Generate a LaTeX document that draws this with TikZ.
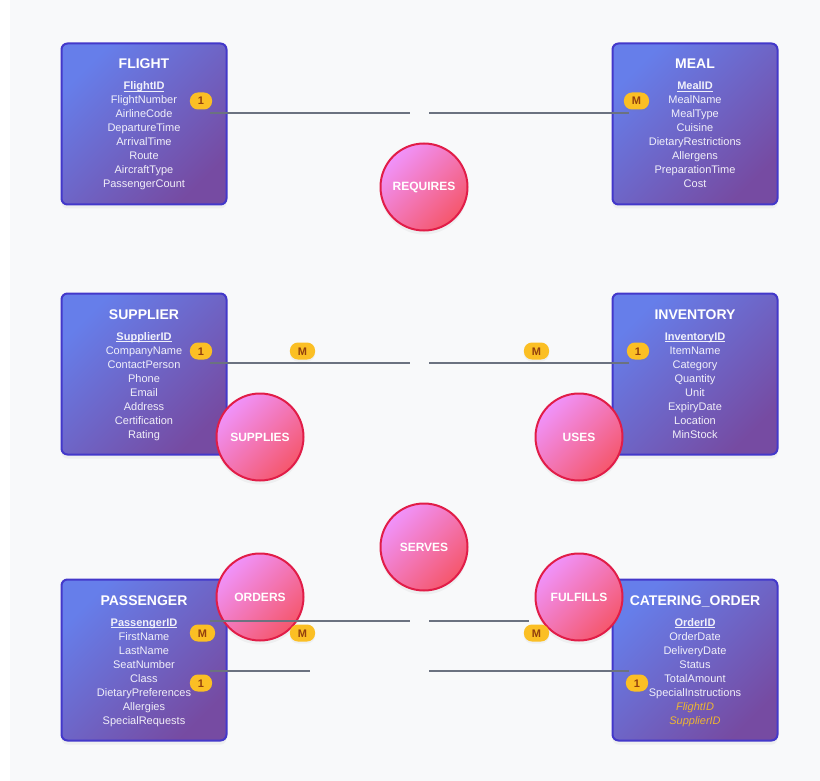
\documentclass[tikz,border=0pt]{standalone}
\usepackage{fontspec}
\setmainfont{Liberation Sans}
\usetikzlibrary{shadows, positioning}
\definecolor{eTop}{HTML}{667EEA}
\definecolor{eBot}{HTML}{764BA2}
\definecolor{eEdge}{HTML}{4338CA}
\definecolor{rTop}{HTML}{F093FB}
\definecolor{rBot}{HTML}{F5576C}
\definecolor{rEdge}{HTML}{E11D48}
\definecolor{lGrey}{HTML}{6B7280}
\definecolor{bFill}{HTML}{FBBF24}
\definecolor{bInk}{HTML}{92400E}
\definecolor{fkInk}{HTML}{FBBF24}
\definecolor{paper}{HTML}{F8F9FA}
\newlength{\pkwidth}
\newcommand{\pk}[1]{\settowidth{\pkwidth}{\textbf{#1}}%
  \textbf{#1}\hspace{-\pkwidth}\rule[-2pt]{\pkwidth}{1pt}}
\newcommand{\fk}[1]{\textcolor{fkInk}{\textit{#1}}}

\begin{document}
\begin{tikzpicture}[x=1pt, y=-1pt,
  entity/.style={draw=eEdge, line width=2pt, rounded corners=6pt,
    top color=eTop, bottom color=eBot, shading angle=45,
    minimum width=165pt, minimum height=161pt, inner sep=0pt,
    drop shadow={opacity=0.08, shadow xshift=0pt, shadow yshift=-4pt}},
  etitle/.style={text=white, anchor=base, inner sep=0pt,
    font=\fontsize{14}{16}\selectfont\bfseries},
  attr/.style={text=white, text opacity=0.9, anchor=base, inner sep=0pt,
    font=\fontsize{11}{13}\selectfont},
  rel/.style={circle, draw=rEdge, line width=2pt,
    top color=rTop, bottom color=rBot, shading angle=45,
    minimum size=87pt, inner sep=0pt, text=white,
    font=\fontsize{12}{14}\selectfont\bfseries,
    drop shadow={opacity=0.08, shadow xshift=0pt, shadow yshift=-4pt}},
  link/.style={draw=lGrey, line width=2pt},
  badge/.style={fill=bFill, text=bInk, rounded corners=8pt,
    minimum height=17pt, minimum width=22pt, inner xsep=8pt, inner ysep=0pt,
    text height=8pt, text depth=0pt, font=\fontsize{11}{13}\selectfont\bfseries,
    drop shadow={opacity=0.08, shadow xshift=0pt, shadow yshift=-2pt}}]

  % canvas
  \useasboundingbox (0,0) rectangle (820,781);
  \fill[white] (0,0) rectangle (820,781);
  \fill[paper] (10,0) rectangle (820,781);

  % entities
  \node[entity] (flight) at (144,124) {};
  \node[etitle] (flight-t) at (144,69) {FLIGHT};
  \foreach \a [count=\i from 0] in {\pk{FlightID}, FlightNumber, AirlineCode,
      DepartureTime, ArrivalTime, Route, AircraftType, PassengerCount}
    \node[attr] (flight-\i) at (144,90+14*\i) {\a};

  \node[entity] (meal) at (695,124) {};
  \node[etitle] (meal-t) at (695,69) {MEAL};
  \foreach \a [count=\i from 0] in {\pk{MealID}, MealName, MealType, Cuisine,
      DietaryRestrictions, Allergens, PreparationTime, Cost}
    \node[attr] (meal-\i) at (695,90+14*\i) {\a};

  \node[entity] (supplier) at (144,374) {};
  \node[etitle] (supplier-t) at (144,319) {SUPPLIER};
  \foreach \a [count=\i from 0] in {\pk{SupplierID}, CompanyName, ContactPerson,
      Phone, Email, Address, Certification, Rating}
    \node[attr] (supplier-\i) at (144,340+14*\i) {\a};

  \node[entity] (inventory) at (695,374) {};
  \node[etitle] (inventory-t) at (695,319) {INVENTORY};
  \foreach \a [count=\i from 0] in {\pk{InventoryID}, ItemName, Category,
      Quantity, Unit, ExpiryDate, Location, MinStock}
    \node[attr] (inventory-\i) at (695,340+14*\i) {\a};

  \node[entity] (passenger) at (144,660) {};
  \node[etitle] (passenger-t) at (144,605) {PASSENGER};
  \foreach \a [count=\i from 0] in {\pk{PassengerID}, FirstName, LastName,
      SeatNumber, Class, DietaryPreferences, Allergies, SpecialRequests}
    \node[attr] (passenger-\i) at (144,626+14*\i) {\a};

  \node[entity] (order) at (695,660) {};
  \node[etitle] (order-t) at (695,605) {CATERING\_ORDER};
  \foreach \a [count=\i from 0] in {\pk{OrderID}, OrderDate, DeliveryDate,
      Status, TotalAmount, SpecialInstructions, \fk{FlightID}, \fk{SupplierID}}
    \node[attr] (order-\i) at (695,626+14*\i) {\a};

  % relationships
  \node[rel] (requires) at (424,187) {REQUIRES};
  \node[rel] (supplies) at (260,437) {SUPPLIES};
  \node[rel] (uses)     at (579,437) {USES};
  \node[rel] (serves)   at (424,547) {SERVES};
  \node[rel] (orders)   at (260,597) {ORDERS};
  \node[rel] (fulfills) at (579,597) {FULFILLS};

  % connectors, split in two halves
  \foreach \y/\xa/\xb/\xc/\xd in {113/210/410/429/629, 363/210/410/429/629,
      621/210/410/429/529, 671/210/310/429/629} {
    \coordinate (la\y) at (\xa,\y);
    \coordinate (lb\y) at (\xb,\y);
    \coordinate (lc\y) at (\xc,\y);
    \coordinate (ld\y) at (\xd,\y);
    \draw[link] (la\y) -- (lb\y);
    \draw[link] (lc\y) -- (ld\y);
  }

  % cardinalities
  \foreach \x/\y/\m [count=\k] in {201/101/1, 636.5/101/M, 201/351/1,
      302.5/351/M, 536.5/351/M, 638/351/1, 202.5/633/M, 302.5/633/M,
      536.5/633/M, 201/683/1, 637/683/1}
    \node[badge] (card\k) at (\x,\y) {\m};
\end{tikzpicture}
\end{document}
